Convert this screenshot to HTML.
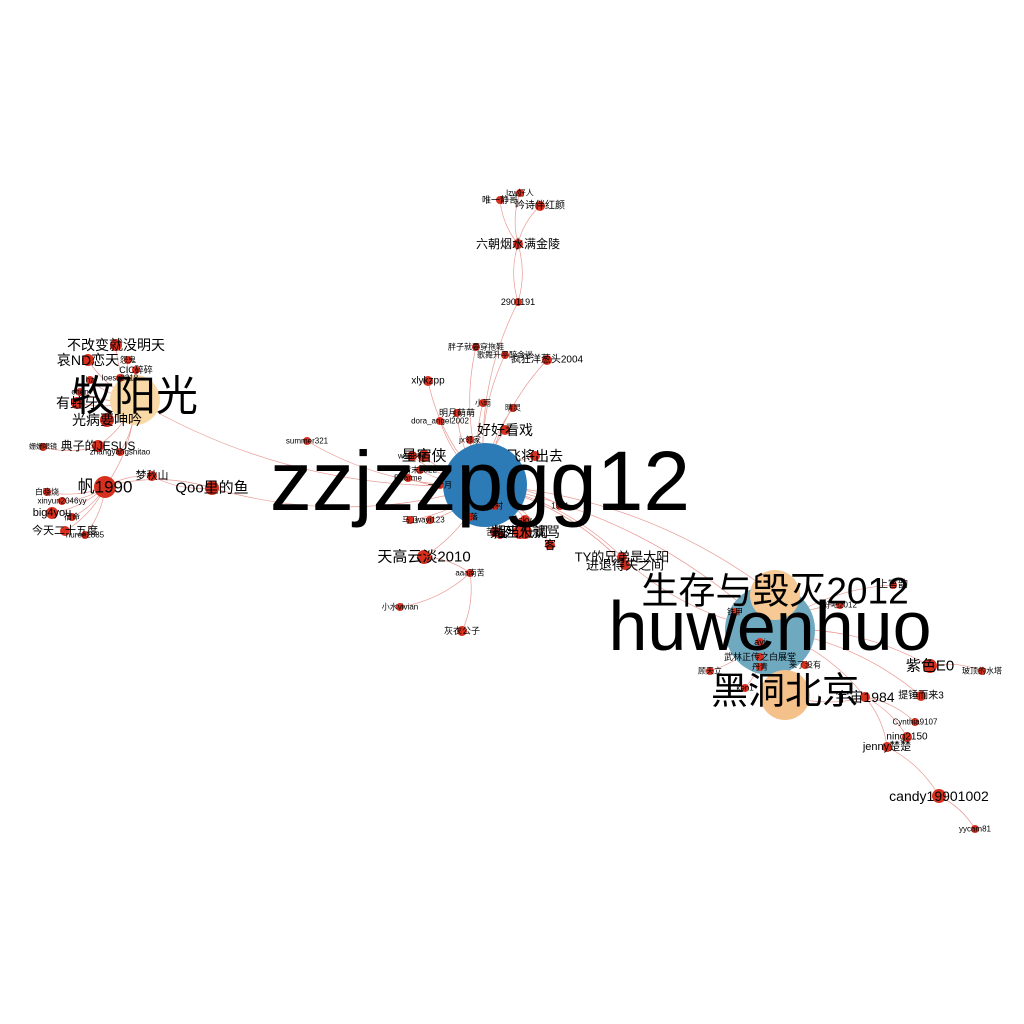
<!DOCTYPE html>
<html><head><meta charset="utf-8">
<style>
html,body{margin:0;padding:0;background:#fff;}
svg{display:block;}
text{font-family:"Liberation Sans","Noto Sans CJK SC",sans-serif;fill:#000;text-anchor:middle;dominant-baseline:central;}
</style></head>
<body>
<svg id="g" width="1024" height="1024" viewBox="0 0 1024 1024">
<rect width="1024" height="1024" fill="#fff"/>
<g id="edges"></g>
<g id="nodes"></g>
<g id="labels"></g>
</svg>
<script>
const nodeNames = ["zzjzzpgg12","huwenhuo","生存与毁灭2012","黑洞北京","牧阳光",
"六朝烟水满金陵","唯一静哥","lzw好人","吟诗伴红颜","2901191","胖子就要穿拖鞋","歌舞升平醉金迷","疯狂洋葱头2004","xlykzpp","小雨","晴灵","明月萌萌","dora_angel2002","好好看戏","jx邻家","w13894","飞将出去","星宿侠","清末2322","Pharme","一个月","相当低调","光死人就骂","苦瓜","sky","aaa南苦","小水vivian","灰衣公子","天高云淡2010","summer321","Qoo里的鱼","梦秋山","TY的兄弟是太阳","进退得失之间","花落","马卫","宇宙","wayi123","客","家村","1971",
"上官韵","好吧2012","铁甲","武林正传之白展堂","顾天立","丹青","来了没有","紫色E0","玻顶的水塔","提锤而来3","宇宙1984","Cynthia9107","ning2150","jenny楚楚","candy19901002","yycam81","ayi","ken1",
"不改变就没明天","哀ND恋天","有蛀牙","光病要呻吟","典子的JESUS","姗姗眼镜","帆1990","白晓烧","xinyun2046yy","big4you","今天二十五度","nuree2885","CIC碎碎","怨鬼","loesx2318","hz","chen","zhangyangshitao","宿命"];
const nodeX = [485,770,775,785,135, 518,500,520,540,518,476,505,547,428,483,513,457,440,505,470,412,535,424,420,408,440,520,525,495,525,470,400,462,424,307,212,152,622,625,470,410,500,430,550,495,560, 893,840,735,760,710,760,805,930,982,921,865,915,907,887,939,975,760,745, 116,88,77,107,98,43,105,47,62,52,65,85,136,128,120,90,80,120,72];
const nodeY = [485,630,595,695,400, 244,200,193,206,302,347,355,360,381,403,408,413,421,430,440,456,456,456,470,478,485,532,532,532,520,573,607,631,557,441,488,476,557,565,517,520,535,520,545,506,506, 585,605,612,657,671,667,665,666,671,696,697,722,737,747,796,829,642,688, 345,360,403,420,446,447,487,492,501,513,531,535,370,360,378,380,392,452,517];
const nodeR = [42,45,25,25,25, 5,4,4,5,4,4,4,5,5,4,4,4,4,5,4,5,5,6,4,4,4,7,7,5,5,4,4,5,7,4,7,5,5,5,4,4,4,4,5,4,4, 4,4,4,4,4,4,4,7,4,5,5,4,5,5,7,4,4,4, 6,6,6,7,6,4,11,4,4,6,5,4,4,4,4,4,4,4,4];
const nodeFont = [84,70,37,37,42, 12,9,8,10,9,8,8,10,10,8,8,9,8,14,8,8,14,15,8,8,8,14,14,9,9,8,8,9,15,8,15,11,13,13,8,8,8,8,12,8,8, 10,8,8,9,8,8,8,15,8,10,14,8,10,11,14,8,9,8, 14,14,14,14,12,7,17,8,8,11,11,8,9,8,8,8,8,8,8];
const nodeParent = ["","","huwenhuo","huwenhuo","",
"","六朝烟水满金陵","六朝烟水满金陵","六朝烟水满金陵","六朝烟水满金陵","zzjzzpgg12","zzjzzpgg12","zzjzzpgg12","zzjzzpgg12","zzjzzpgg12","zzjzzpgg12","zzjzzpgg12","zzjzzpgg12","zzjzzpgg12","zzjzzpgg12","zzjzzpgg12","zzjzzpgg12","zzjzzpgg12","zzjzzpgg12","zzjzzpgg12","zzjzzpgg12","zzjzzpgg12","zzjzzpgg12","zzjzzpgg12","zzjzzpgg12","天高云淡2010","aaa南苦","aaa南苦","zzjzzpgg12","zzjzzpgg12","zzjzzpgg12","Qoo里的鱼","zzjzzpgg12","zzjzzpgg12","zzjzzpgg12","zzjzzpgg12","zzjzzpgg12","zzjzzpgg12","zzjzzpgg12","zzjzzpgg12","zzjzzpgg12",
"huwenhuo","huwenhuo","huwenhuo","huwenhuo","huwenhuo","huwenhuo","huwenhuo","huwenhuo","紫色E0","huwenhuo","huwenhuo","宇宙1984","宇宙1984","宇宙1984","jenny楚楚","candy19901002","huwenhuo","huwenhuo",
"牧阳光","牧阳光","牧阳光","牧阳光","牧阳光","典子的JESUS","牧阳光","帆1990","帆1990","帆1990","帆1990","帆1990","牧阳光","牧阳光","牧阳光","牧阳光","牧阳光","牧阳光","帆1990"];
const extraFrom = ["六朝烟水满金陵","2901191","牧阳光","Qoo里的鱼","TY的兄弟是太阳","进退得失之间","黑洞北京","生存与毁灭2012","huwenhuo","梦秋山"];
const extraTo = ["2901191","zzjzzpgg12","zzjzzpgg12","帆1990","huwenhuo","zzjzzpgg12","宇宙1984","zzjzzpgg12","zzjzzpgg12","帆1990"];
const hubColor = {"zzjzzpgg12":"#2c7bb6","huwenhuo":"#6ea9bf","生存与毁灭2012":"#f7c994","黑洞北京":"#f5c18b","牧阳光":"#f9d9a6"};
const NS="http://www.w3.org/2000/svg";
const idx={}; nodeNames.forEach((n,i)=>idx[n]=i);
const E=document.getElementById('edges'),N=document.getElementById('nodes'),L=document.getElementById('labels');
function edge(a,b){
  const x1=nodeX[a],y1=nodeY[a],x2=nodeX[b],y2=nodeY[b];
  const mx=(x1+x2)/2-(y2-y1)*0.15, my=(y1+y2)/2+(x2-x1)*0.15;
  const p=document.createElementNS(NS,'path');
  p.setAttribute('d',`M${x1},${y1} Q${mx},${my} ${x2},${y2}`);
  p.setAttribute('fill','none');p.setAttribute('stroke','#e89a94');p.setAttribute('stroke-width','0.7');
  
  
  E.appendChild(p);
}
nodeNames.forEach((n,i)=>{ if(nodeParent[i]) edge(i,idx[nodeParent[i]]); });
extraFrom.forEach((f,k)=>edge(idx[f],idx[extraTo[k]]));
nodeNames.forEach((n,i)=>{
  const c=document.createElementNS(NS,'circle');
  c.setAttribute('cx',nodeX[i]);c.setAttribute('cy',nodeY[i]);c.setAttribute('r',nodeR[i]);
  c.setAttribute('fill',hubColor[n]||'#d7301f');
  
  
  N.appendChild(c);
});
nodeNames.forEach((n,i)=>{
  const t=document.createElementNS(NS,'text');
  t.setAttribute('x',nodeX[i]-(i===0?5:0));t.setAttribute('y',nodeY[i]-(nodeFont[i]>30?4:0));
  t.setAttribute('font-size',nodeFont[i]);
  if(nodeFont[i]<=9) t.setAttribute('fill','#222');
  t.textContent=n;
  
  
  L.appendChild(t);
});
</script>
</body></html>
